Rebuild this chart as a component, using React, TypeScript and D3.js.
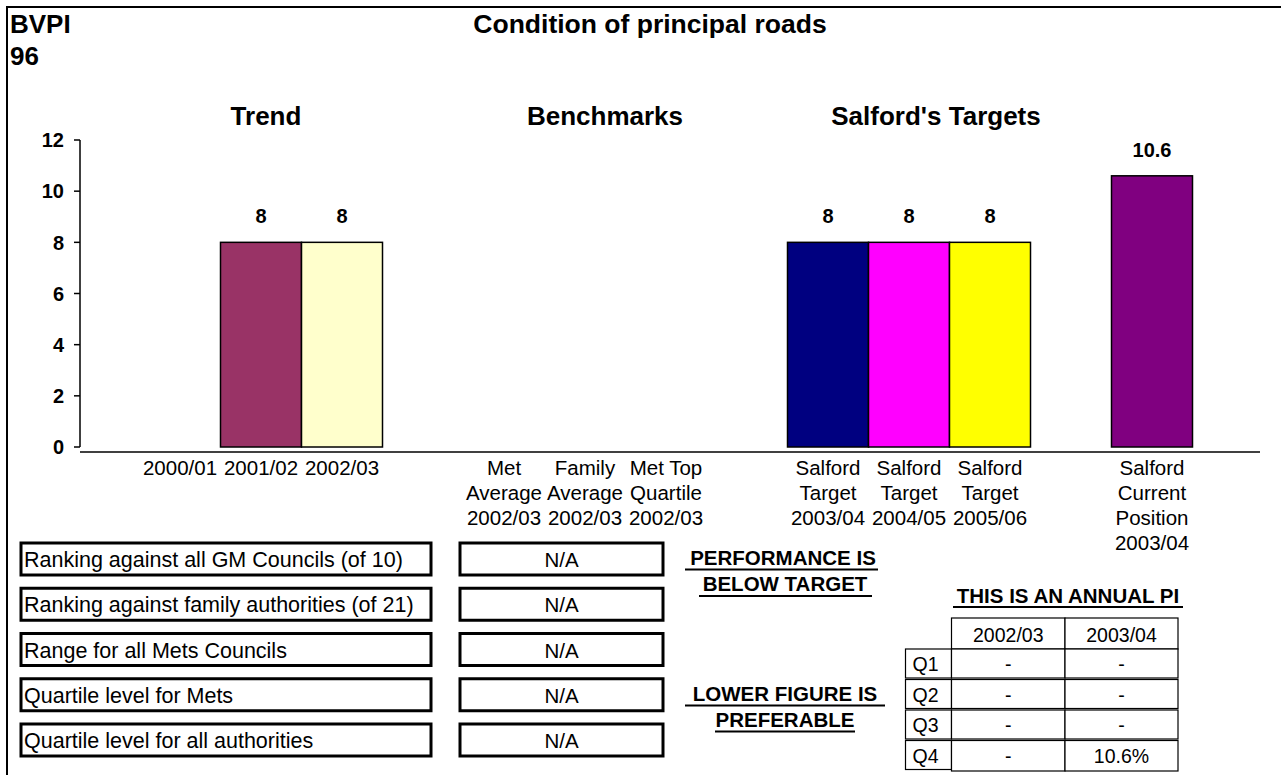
import React from "react";
import * as d3 from "d3";

const categoryLabels: string[][] = [
  ["2000/01"],
  ["2001/02"],
  ["2002/03"],
  [],
  ["Met", "Average", "2002/03"],
  ["Family", "Average", "2002/03"],
  ["Met Top", "Quartile", "2002/03"],
  [],
  ["Salford", "Target", "2003/04"],
  ["Salford", "Target", "2004/05"],
  ["Salford", "Target", "2005/06"],
  [],
  ["Salford", "Current", "Position", "2003/04"],
];
const values: (number | null)[] = [null, 8, 8, null, null, null, null, null, 8, 8, 8, null, 10.6];
const barColors: string[] = [
  "none", "#993366", "#FFFFCC", "none", "none", "none", "none", "none",
  "#000080", "#FF00FF", "#FFFF00", "none", "#800080",
];
const yTicks = [0, 2, 4, 6, 8, 10, 12];
const groupTitles = ["Trend", "Benchmarks", "Salford's Targets"];
const groupTitleX = [266, 605, 936];

const rowLabels = [
  "Ranking against all GM Councils (of 10)",
  "Ranking against family authorities (of 21)",
  "Range for all Mets Councils",
  "Quartile level for Mets",
  "Quartile level for all authorities",
];
const rowValues = ["N/A", "N/A", "N/A", "N/A", "N/A"];

const quartileYears = ["2002/03", "2003/04"];
const quartileNames = ["Q1", "Q2", "Q3", "Q4"];
const quartileValues = [
  ["-", "-"],
  ["-", "-"],
  ["-", "-"],
  ["-", "10.6%"],
];

const FONT = "'Liberation Sans', Arial, Helvetica, sans-serif";

export default function App() {
  const W = 1281;
  const H = 775;
  const idx = categoryLabels.map((_, i) => String(i));
  const x = d3.scaleBand<string>().domain(idx).range([139.5, 1192.5]).paddingInner(0).paddingOuter(0);
  const y = d3.scaleLinear().domain([0, 12]).range([447, 140]);

  const rowY = d3.scaleLinear().domain([0, 4]).range([543, 724]);

  const tblX = [905.5, 951.5, 1065, 1178];
  const tblHeaderTop = 618;
  const tblRowTop = d3.scaleLinear().domain([0, 4]).range([649, 771]);

  return (
    <svg
      width={W}
      height={H}
      style={{ position: "absolute", left: 0, top: 0, background: "#fff" }}
      fontFamily={FONT}
    >
      <rect x={0} y={0} width={W} height={H} fill="#fff" />
      <rect x={7} y={7} width={1300} height={800} fill="none" stroke="#000" strokeWidth={2} />

      <text x={10} y={33} fontSize={26} fontWeight="bold">BVPI</text>
      <text x={10} y={65} fontSize={26} fontWeight="bold">96</text>
      <text x={650} y={33} fontSize={26.5} fontWeight="bold" textAnchor="middle">
        Condition of principal roads
      </text>

      {groupTitles.map((t, i) => (
        <text key={t} x={groupTitleX[i]} y={125} fontSize={26} fontWeight="bold" textAnchor="middle">
          {t}
        </text>
      ))}

      {/* y axis */}
      <line x1={80} x2={80} y1={y(12)} y2={y(0)} stroke="#000" strokeWidth={1.5} />
      {yTicks.map((t) => (
        <g key={t}>
          <line x1={74} x2={80} y1={y(t)} y2={y(t)} stroke="#000" strokeWidth={1.5} />
          <text x={64} y={y(t)} dy="0.36em" fontSize={20} fontWeight="bold" textAnchor="end">
            {t}
          </text>
        </g>
      ))}

      {/* bars */}
      {values.map((v, i) =>
        v == null ? null : (
          <g key={i}>
            <rect
              x={x(String(i))!}
              y={y(v)}
              width={x.bandwidth()}
              height={y(0) - y(v)}
              fill={barColors[i]}
              stroke="#000"
              strokeWidth={1.5}
            />
            <text
              x={x(String(i))! + x.bandwidth() / 2}
              y={y(v) - 19}
              fontSize={20}
              fontWeight="bold"
              textAnchor="middle"
            >
              {d3.format("~g")(v)}
            </text>
          </g>
        )
      )}

      {/* x axis */}
      <line x1={80} x2={1260} y1={452} y2={452} stroke="#000" strokeWidth={1.5} />
      {categoryLabels.map((lines, i) => (
        <text key={i} fontSize={20.5} textAnchor="middle">
          {lines.map((l, j) => (
            <tspan key={j} x={x(String(i))! + x.bandwidth() / 2} y={475 + j * 25}>
              {l}
            </tspan>
          ))}
        </text>
      ))}

      {/* info boxes */}
      {rowLabels.map((lab, i) => (
        <g key={lab}>
          <rect x={21} y={rowY(i)} width={410} height={32} fill="#fff" stroke="#000" strokeWidth={3} />
          <text x={24} y={rowY(i) + 24} fontSize={21.5}>{lab}</text>
          <rect x={460} y={rowY(i)} width={203} height={32} fill="#fff" stroke="#000" strokeWidth={3} />
          <text x={561.5} y={rowY(i) + 24} fontSize={20.5} textAnchor="middle">{rowValues[i]}</text>
        </g>
      ))}

      {/* notes */}
      <text x={783} y={565} fontSize={20.5} fontWeight="bold" textAnchor="middle">
        PERFORMANCE IS
      </text>
      <line x1={685} x2={878} y1={569.5} y2={569.5} stroke="#000" strokeWidth={2} />
      <text x={785} y={591} fontSize={20.5} fontWeight="bold" textAnchor="middle">
        BELOW TARGET
      </text>
      <line x1={699} x2={872} y1={596} y2={596} stroke="#000" strokeWidth={2} />
      <text x={785} y={701} fontSize={20.5} fontWeight="bold" textAnchor="middle">
        LOWER FIGURE IS
      </text>
      <line x1={685} x2={885} y1={705.5} y2={705.5} stroke="#000" strokeWidth={2} />
      <text x={785} y={727} fontSize={20.5} fontWeight="bold" textAnchor="middle">
        PREFERABLE
      </text>
      <line x1={715} x2={855} y1={731.5} y2={731.5} stroke="#000" strokeWidth={2} />

      <text x={1068} y={603} fontSize={20.5} fontWeight="bold" textAnchor="middle">
        THIS IS AN ANNUAL PI
      </text>
      <line x1={953} x2={1183} y1={607} y2={607} stroke="#000" strokeWidth={2} />

      {/* quartile table */}
      {quartileYears.map((yr, c) => (
        <g key={yr}>
          <rect x={tblX[c + 1]} y={tblHeaderTop} width={tblX[c + 2] - tblX[c + 1]} height={31} fill="#fff" stroke="#000" strokeWidth={1.2} />
          <text x={(tblX[c + 1] + tblX[c + 2]) / 2} y={tblHeaderTop + 24} fontSize={19.5} textAnchor="middle">{yr}</text>
        </g>
      ))}
      {quartileNames.map((q, r) => (
        <g key={q}>
          <rect x={tblX[0]} y={tblRowTop(r)} width={tblX[1] - tblX[0]} height={tblRowTop(r + 1) - tblRowTop(r) - 1.5} fill="#fff" stroke="#000" strokeWidth={1.2} />
          <text x={tblX[0] + 7} y={tblRowTop(r) + 22} fontSize={19.5}>{q}</text>
          {quartileValues[r].map((v, c) => (
            <g key={c}>
              <rect x={tblX[c + 1]} y={tblRowTop(r)} width={tblX[c + 2] - tblX[c + 1]} height={tblRowTop(r + 1) - tblRowTop(r) - (r === 3 ? 0 : 1.5)} fill="#fff" stroke="#000" strokeWidth={1.2} />
              <text x={(tblX[c + 1] + tblX[c + 2]) / 2} y={tblRowTop(r) + 22} fontSize={19.5} textAnchor="middle">{v}</text>
            </g>
          ))}
        </g>
      ))}
    </svg>
  );
}
